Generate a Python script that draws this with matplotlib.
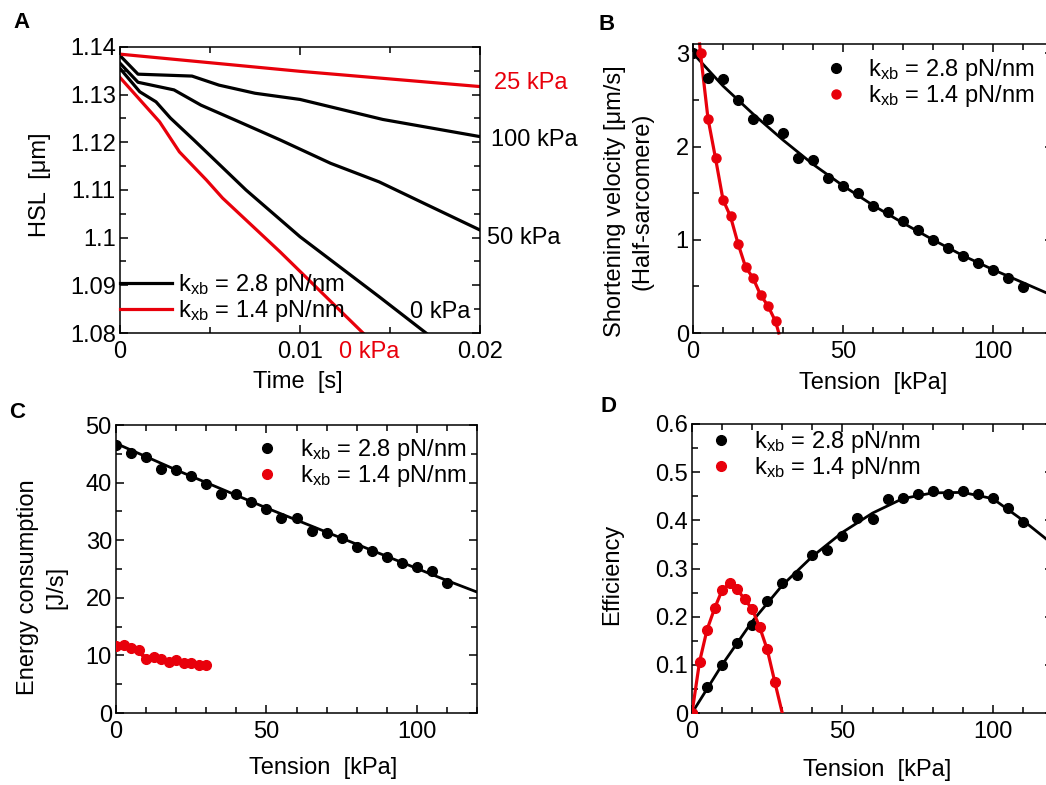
import numpy as np
import matplotlib
matplotlib.use("Agg")
import matplotlib.pyplot as plt
from matplotlib.ticker import MultipleLocator

plt.rcParams["font.family"] = ["Liberation Sans", "DejaVu Sans"]
plt.rcParams["font.size"] = 17
plt.rcParams["mathtext.fontset"] = "custom"
plt.rcParams["mathtext.rm"] = "Liberation Sans"
plt.rcParams["mathtext.it"] = "Liberation Sans:italic"

RED = "#e8000b"
LAB_28 = r"k$_{\mathrm{xb}}$ = 2.8 pN/nm"
LAB_14 = r"k$_{\mathrm{xb}}$ = 1.4 pN/nm"

# ---- panel A: half-sarcomere length vs time ----
t_red25 = [0, 0.01, 0.02]
hsl_red25 = [1.1385, 1.1349, 1.1317]
t_blk100 = [0, 0.001, 0.004, 0.0055, 0.0075, 0.01, 0.0146, 0.02]
hsl_blk100 = [1.1382, 1.1343, 1.1339, 1.1320, 1.1303, 1.1290, 1.1248, 1.1212]
t_blk50 = [0, 0.001, 0.003, 0.0045, 0.0065, 0.0089, 0.0117, 0.0144, 0.0170, 0.02]
hsl_blk50 = [1.1366, 1.1326, 1.1310, 1.1278, 1.1245, 1.1205, 1.1156, 1.1117, 1.1070, 1.1016]
t_blk0 = [0, 0.0011, 0.0020, 0.0028, 0.0041, 0.0070, 0.0100, 0.0144, 0.0170]
hsl_blk0 = [1.1355, 1.1306, 1.1285, 1.1251, 1.1205, 1.1100, 1.1002, 1.0876, 1.0800]
t_red0 = [0, 0.0022, 0.0033, 0.0048, 0.0057, 0.0089, 0.0135]
hsl_red0 = [1.1336, 1.1243, 1.1180, 1.1121, 1.1083, 1.0970, 1.0800]

# ---- panels B-D: black series (k = 2.8), tension every 5 kPa ----
tens_blk = np.arange(0, 111, 5)
vel_blk = [3.0, 2.73, 2.72, 2.5, 2.30, 2.30, 2.14, 1.875, 1.86, 1.66, 1.58, 1.5,
           1.36, 1.30, 1.20, 1.11, 1.0, 0.91, 0.83, 0.75, 0.68, 0.59, 0.49]
energy_blk = [46.5, 45.2, 44.4, 42.4, 42.2, 41.1, 39.7, 38.0, 38.0, 36.6, 35.5, 33.8,
              33.8, 31.6, 31.2, 30.4, 28.9, 28.1, 27.1, 26.0, 25.3, 24.6, 22.6]
eff_blk = [0, 0.053, 0.10, 0.146, 0.182, 0.232, 0.269, 0.286, 0.329, 0.338, 0.368, 0.404,
           0.402, 0.444, 0.447, 0.454, 0.46, 0.455, 0.46, 0.455, 0.447, 0.425, 0.397]

# fitted curves for the black series
fit_tens = np.arange(0, 121, 10)
vel_fit = [3.00, 2.65, 2.35, 2.07, 1.81, 1.58, 1.37, 1.18, 1.00, 0.83, 0.68, 0.54, 0.40]
energy_fit = [46.8, 44.5, 42.2, 40.0, 37.8, 35.6, 33.5, 31.4, 29.3, 27.2, 25.1, 23.0, 21.0]
eff_fit = [0, 0.10, 0.19, 0.265, 0.325, 0.375, 0.415, 0.445, 0.457, 0.458, 0.445, 0.40, 0.35]

# red series (k = 1.4)
tens_red_v = [2.5, 5, 7.5, 10, 12.5, 15, 17.5, 20, 22.5, 25, 27.5]
vel_red = [3.0, 2.30, 1.875, 1.43, 1.25, 0.96, 0.71, 0.59, 0.41, 0.29, 0.125]
vel_red_line_t = [2.2, 2.5, 5, 7.5, 10, 12.5, 15, 17.5, 20, 22.5, 25, 27.5, 28.6]
vel_red_line = [3.1, 3.0, 2.30, 1.875, 1.43, 1.25, 0.96, 0.71, 0.59, 0.41, 0.29, 0.125, 0]

tens_red_e = [0, 2.5, 5, 7.5, 10, 12.5, 15, 17.5, 20, 22.5, 25, 27.5, 30]
energy_red = [11.6, 11.8, 11.2, 10.9, 9.3, 9.7, 9.4, 8.9, 9.2, 8.6, 8.6, 8.3, 8.4]

tens_red_eff = [0, 2.5, 5, 7.5, 10, 12.5, 15, 17.5, 20, 22.5, 25, 27.5]
eff_red = [0, 0.106, 0.173, 0.217, 0.255, 0.269, 0.257, 0.236, 0.216, 0.178, 0.132, 0.065]
eff_red_line_t = tens_red_eff + [30]
eff_red_line = eff_red + [0]

W, H = 1046, 785
fig = plt.figure(figsize=(W / 100, H / 100), dpi=100)


def make_axes(l, t, r, b):
    return fig.add_axes([l / W, 1 - b / H, (r - l) / W, (b - t) / H])


def style(ax):
    for s in ax.spines.values():
        s.set_linewidth(1.1)
    ax.tick_params(which="both", direction="in", top=True, right=True, width=1.1,
                   labelsize=17)
    ax.tick_params(which="major", length=6)
    ax.tick_params(which="minor", length=4)
    ax.tick_params(axis="y", pad=3)
    ax.tick_params(axis="x", pad=6)


axA = make_axes(120, 47, 480, 333)
axB = make_axes(693, 44, 1053, 333)
axC = make_axes(116, 425, 477, 713)
axD = make_axes(692, 424, 1053, 713)
for ax in (axA, axB, axC, axD):
    style(ax)

# ---- A ----
lw = 2.3
axA.plot(t_blk100, hsl_blk100, color="black", lw=lw)
axA.plot(t_blk50, hsl_blk50, color="black", lw=lw)
axA.plot(t_blk0, hsl_blk0, color="black", lw=lw, label=LAB_28)
axA.plot(t_red25, hsl_red25, color=RED, lw=lw)
axA.plot(t_red0, hsl_red0, color=RED, lw=lw, label=LAB_14)
axA.set_xlim(0, 0.02)
axA.set_ylim(1.08, 1.14)
axA.xaxis.set_major_locator(MultipleLocator(0.01))
axA.xaxis.set_minor_locator(MultipleLocator(0.005))
axA.yaxis.set_major_locator(MultipleLocator(0.01))
axA.yaxis.set_minor_locator(MultipleLocator(0.005))
axA.set_xticklabels(["0", "0.01", "0.02"] if False else [], minor=True)
axA.xaxis.set_major_formatter(plt.FuncFormatter(lambda v, p: "0" if abs(v) < 1e-9 else f"{v:g}"))
axA.yaxis.set_major_formatter(plt.FuncFormatter(lambda v, p: f"{v:.2f}".rstrip("0") if abs(v - 1.1) < 1e-9 else f"{v:.2f}"))
axA.text(0.0208, 1.1324, "25 kPa", color=RED, va="center", ha="left", clip_on=False)
axA.text(0.0206, 1.1205, "100 kPa", color="black", va="center", ha="left", clip_on=False)
axA.text(0.0204, 1.0999, "50 kPa", color="black", va="center", ha="left", clip_on=False)
axA.text(0.01944, 1.0844, "0 kPa", color="black", va="center", ha="right")
axA.text(0.01217, 1.0760, "0 kPa", color=RED, va="center", ha="left", clip_on=False)
axA.legend(loc="center left", bbox_to_anchor=(0, 0.122), frameon=False, borderpad=0,
           borderaxespad=0, handlelength=2.2, handletextpad=0.25, labelspacing=0.0)
axA.text(0.494, -0.171, "Time  [s]", transform=axA.transAxes, ha="center", va="center")
axA.text(-0.222, 0.517, "HSL  [\u03bcm]", transform=axA.transAxes, ha="center", va="center",
         rotation=90)

# ---- B ----
axB.plot(fit_tens, vel_fit, color="black", lw=2.0, zorder=2)
axB.plot(tens_blk, vel_blk, "o", color="black", ms=7, zorder=3, label=LAB_28)
axB.plot(vel_red_line_t, vel_red_line, color=RED, lw=2.3, zorder=2, clip_on=False)
axB.plot(tens_red_v, vel_red, "o", color=RED, ms=6.5, zorder=3, label=LAB_14)
axB.set_xlim(0, 120)
axB.set_ylim(0, 3.1)
axB.xaxis.set_major_locator(MultipleLocator(50))
axB.xaxis.set_minor_locator(MultipleLocator(10))
axB.yaxis.set_major_locator(MultipleLocator(1))
axB.yaxis.set_minor_locator(MultipleLocator(0.5))
axB.legend(loc="upper left", bbox_to_anchor=(0.364, 0.955), frameon=False, borderpad=0,
           borderaxespad=0, handlelength=1.0, handletextpad=0.86, labelspacing=0.0,
           numpoints=1)
axB.text(0.5, -0.173, "Tension  [kPa]", transform=axB.transAxes, ha="center", va="center")
axB.text(-0.178, 0.457, "Shortening velocity [\u03bcm/s]\n(Half-sarcomere)",
         transform=axB.transAxes, ha="center", va="center", rotation=90, linespacing=1.35)

# ---- C ----
axC.plot(fit_tens, energy_fit, color="black", lw=2.0, zorder=2)
axC.plot(tens_blk, energy_blk, "o", color="black", ms=7, zorder=3, label=LAB_28)
axC.plot(tens_red_e, energy_red, "o-", color=RED, ms=7, lw=3, zorder=3, label=LAB_14)
axC.set_xlim(0, 120)
axC.set_ylim(0, 50)
axC.xaxis.set_major_locator(MultipleLocator(50))
axC.xaxis.set_minor_locator(MultipleLocator(10))
axC.yaxis.set_major_locator(MultipleLocator(10))
axC.yaxis.set_minor_locator(MultipleLocator(5))
hC, lC = axC.get_legend_handles_labels()
axC.legend([plt.Line2D([], [], marker="o", ls="", color="black", ms=7),
            plt.Line2D([], [], marker="o", ls="", color=RED, ms=7)], lC,
           loc="upper left", bbox_to_anchor=(0.385, 0.958), frameon=False, borderpad=0,
           borderaxespad=0, handlelength=1.0, handletextpad=0.9, labelspacing=0.0)
axC.text(0.573, -0.191, "Tension  [kPa]", transform=axC.transAxes, ha="center", va="center")
axC.text(-0.205, 0.4375, "Energy consumption\n[J/s]", transform=axC.transAxes,
         ha="center", va="center", rotation=90, linespacing=1.35)

# ---- D ----
axD.plot(fit_tens, eff_fit, color="black", lw=2.0, zorder=2)
axD.plot(tens_blk, eff_blk, "o", color="black", ms=7, zorder=3, label=LAB_28)
axD.plot(eff_red_line_t, eff_red_line, color=RED, lw=2.3, zorder=3)
axD.plot(tens_red_eff, eff_red, "o", color=RED, ms=7, zorder=4, label=LAB_14)
axD.set_xlim(0, 120)
axD.set_ylim(0, 0.6)
axD.xaxis.set_major_locator(MultipleLocator(50))
axD.xaxis.set_minor_locator(MultipleLocator(10))
axD.yaxis.set_major_locator(MultipleLocator(0.1))
axD.yaxis.set_minor_locator(MultipleLocator(0.05))
axD.yaxis.set_major_formatter(plt.FuncFormatter(lambda v, p: "0" if abs(v) < 1e-9 else f"{v:.1f}"))
axD.legend(loc="upper left", bbox_to_anchor=(0.047, 0.983), frameon=False, borderpad=0,
           borderaxespad=0, handlelength=1.0, handletextpad=0.9, labelspacing=0.0,
           numpoints=1)
axD.text(0.512, -0.197, "Tension  [kPa]", transform=axD.transAxes, ha="center", va="center")
axD.text(-0.222, 0.478, "Efficiency", transform=axD.transAxes, ha="center", va="center",
         rotation=90)

for lab, x, y in (("A", 21, 23), ("B", 607, 25), ("C", 17, 412), ("D", 608, 406)):
    fig.text(x / W, 1 - y / H, lab, fontsize=16, fontweight="bold", ha="center", va="center")

fig.savefig("out.png", dpi=100)
